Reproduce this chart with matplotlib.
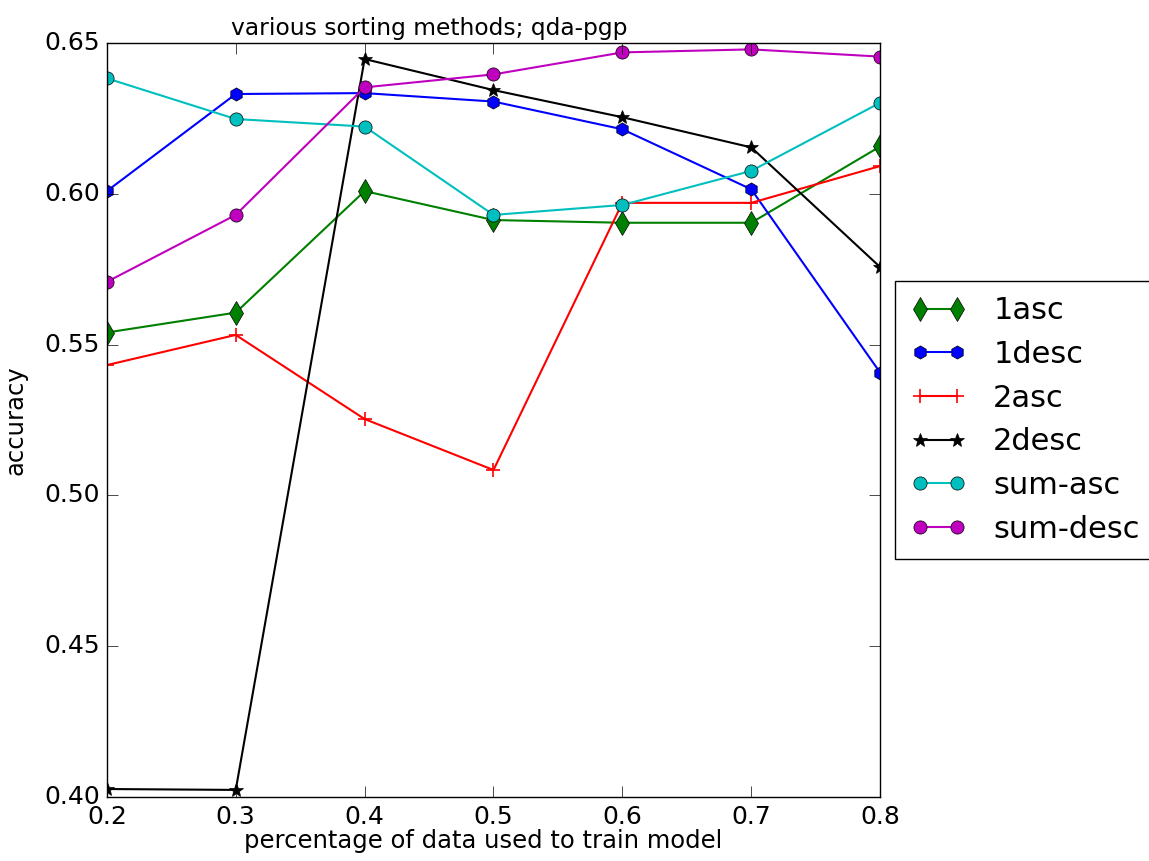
import matplotlib
matplotlib.use('Agg')
import matplotlib.pyplot as plt

plt.style.use('classic')

# training fraction
fracs = [0.2, 0.3, 0.4, 0.5, 0.6, 0.7, 0.8]

# accuracy per sorting method
acc_1asc = [0.5540, 0.5606, 0.6009, 0.5913, 0.5904, 0.5904, 0.6157]
acc_1desc = [0.6009, 0.6331, 0.6334, 0.6306, 0.6214, 0.6015, 0.5407]
acc_2asc = [0.5432, 0.5532, 0.5253, 0.5084, 0.5970, 0.5970, 0.6092]
acc_2desc = [0.4026, 0.4023, 0.6447, 0.6344, 0.6254, 0.6154, 0.5757]
acc_sumasc = [0.6383, 0.6248, 0.6223, 0.5930, 0.5963, 0.6076, 0.6302]
acc_sumdesc = [0.5708, 0.5930, 0.6353, 0.6396, 0.6469, 0.6479, 0.6455]

fig = plt.figure(figsize=(11.49, 8.61), dpi=100, facecolor='white')
ax = fig.add_axes([0.093, 0.0745, 0.673, 0.8755])

ax.plot(fracs, acc_1asc, 'gd-', ms=12, lw=1.5, label='1asc')
ax.plot(fracs, acc_1desc, 'bh-', ms=9.5, lw=1.5, label='1desc')
ax.plot(fracs, acc_2asc, 'r+-', ms=10, lw=1.5, mew=1.2, label='2asc')
ax.plot(fracs, acc_2desc, 'k*-', ms=10, lw=1.5, label='2desc')
ax.plot(fracs, acc_sumasc, 'co-', ms=9.5, lw=1.5, label='sum-asc')
ax.plot(fracs, acc_sumdesc, 'mo-', ms=9.5, lw=1.5, label='sum-desc')

ax.set_xlim(0.2, 0.8)
ax.set_ylim(0.40, 0.65)
ax.set_xticks(fracs)
ax.set_yticks([0.40, 0.45, 0.50, 0.55, 0.60, 0.65])
ax.tick_params(labelsize=18, length=8)
ax.tick_params(axis='x', pad=6)
ax.tick_params(axis='y', pad=5)
ax.set_xlabel('percentage of data used to train model', fontsize=17.5, labelpad=0)
ax.xaxis.label.set_x(0.487)
ax.set_ylabel('accuracy', fontsize=17.5)
ax.yaxis.set_label_coords(-0.102, 0.5)
ax.set_title('various sorting methods; qda-pgp', fontsize=16.8, x=0.4166, pad=6)

ax.legend(loc='center left', bbox_to_anchor=(1.0, 0.5), fontsize=22,
          numpoints=2, handlelength=1.8, handletextpad=0.9,
          borderpad=0.5, labelspacing=0.48, borderaxespad=0.5)

fig.savefig('out.png', dpi=100, facecolor='white')
